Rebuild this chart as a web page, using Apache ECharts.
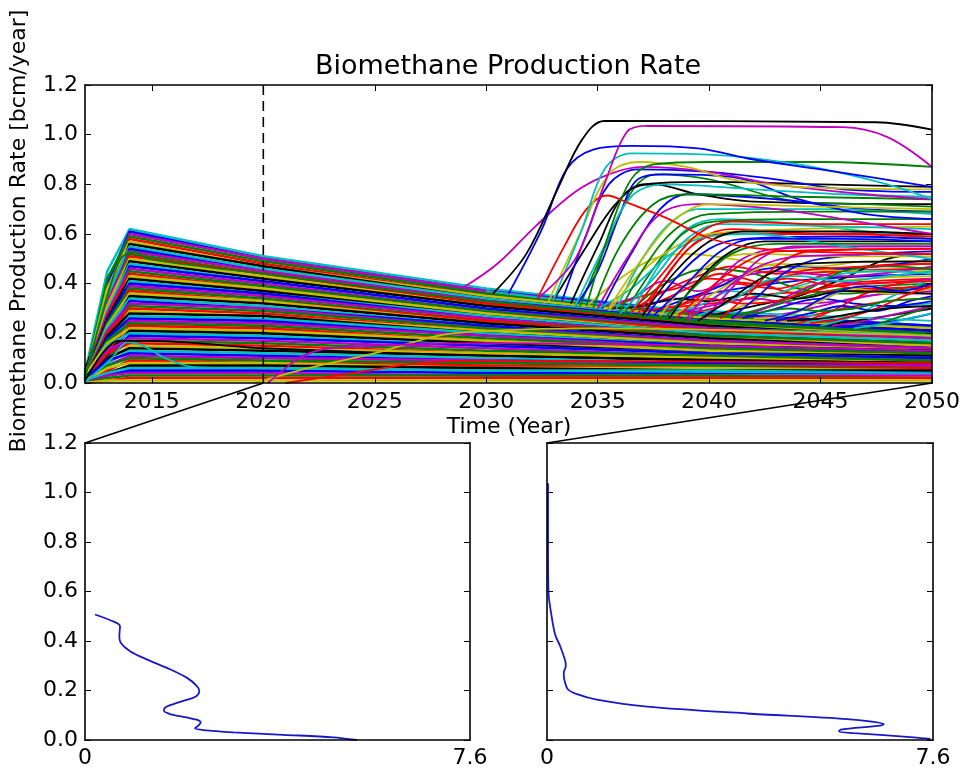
<!DOCTYPE html>
<html>
<head>
<meta charset="utf-8">
<script src="https://cdn.jsdelivr.net/npm/echarts@6/dist/echarts.min.js"></script>
<style>
  html, body { margin: 0; padding: 0; background: #fff; }
  #chart { width: 963px; height: 769px; }
</style>
</head>
<body>
<div id="chart"></div>
<script>
// tick labels
var yearTicks = [2015, 2020, 2025, 2030, 2035, 2040, 2045, 2050];

// the dense fan of runs: values at these years
var fanYears = [2012, 2013, 2014, 2020, 2030, 2040, 2050];
var fanRuns = [
  [0.04, 0.45, 0.62, 0.51, 0.38, 0.28, 0.23],
  [0.02, 0.40, 0.61, 0.50, 0.37, 0.28, 0.23],
  [0.03, 0.36, 0.60, 0.50, 0.37, 0.27, 0.22],
  [0.01, 0.42, 0.59, 0.49, 0.36, 0.27, 0.22],
  [0.03, 0.33, 0.58, 0.48, 0.35, 0.26, 0.21],
  [0.02, 0.38, 0.57, 0.47, 0.35, 0.26, 0.22],
  [0.05, 0.30, 0.56, 0.47, 0.34, 0.25, 0.21],
  [0.02, 0.35, 0.55, 0.46, 0.34, 0.25, 0.20],
  [0.03, 0.28, 0.54, 0.45, 0.33, 0.25, 0.21],
  [0.01, 0.32, 0.53, 0.45, 0.33, 0.24, 0.20],
  [0.02, 0.30, 0.52, 0.44, 0.32, 0.24, 0.20],
  [0.04, 0.26, 0.51, 0.44, 0.32, 0.23, 0.19],
  [0.02, 0.31, 0.50, 0.43, 0.31, 0.23, 0.19],
  [0.03, 0.27, 0.49, 0.42, 0.31, 0.23, 0.18],
  [0.01, 0.29, 0.48, 0.41, 0.30, 0.22, 0.19],
  [0.02, 0.25, 0.47, 0.41, 0.30, 0.22, 0.18],
  [0.03, 0.28, 0.46, 0.40, 0.29, 0.22, 0.18],
  [0.02, 0.24, 0.45, 0.39, 0.29, 0.21, 0.17],
  [0.01, 0.27, 0.44, 0.38, 0.28, 0.21, 0.17],
  [0.03, 0.23, 0.43, 0.38, 0.28, 0.20, 0.17],
  [0.02, 0.26, 0.42, 0.37, 0.27, 0.20, 0.16],
  [0.04, 0.22, 0.41, 0.36, 0.27, 0.20, 0.17],
  [0.01, 0.25, 0.40, 0.36, 0.26, 0.19, 0.16],
  [0.02, 0.21, 0.39, 0.35, 0.26, 0.19, 0.15],
  [0.03, 0.24, 0.38, 0.34, 0.25, 0.19, 0.16],
  [0.02, 0.20, 0.37, 0.33, 0.25, 0.18, 0.15],
  [0.01, 0.23, 0.36, 0.33, 0.24, 0.18, 0.15],
  [0.03, 0.19, 0.35, 0.32, 0.24, 0.18, 0.14],
  [0.02, 0.22, 0.34, 0.31, 0.23, 0.17, 0.14],
  [0.01, 0.18, 0.33, 0.30, 0.23, 0.17, 0.14],
  [0.02, 0.21, 0.32, 0.30, 0.22, 0.17, 0.14],
  [0.03, 0.17, 0.31, 0.29, 0.22, 0.16, 0.13],
  [0.02, 0.20, 0.30, 0.28, 0.21, 0.16, 0.13],
  [0.01, 0.16, 0.29, 0.27, 0.21, 0.16, 0.13],
  [0.02, 0.19, 0.28, 0.27, 0.20, 0.15, 0.13],
  [0.03, 0.15, 0.27, 0.26, 0.20, 0.15, 0.12],
  [0.01, 0.18, 0.26, 0.25, 0.19, 0.15, 0.12],
  [0.02, 0.14, 0.25, 0.24, 0.19, 0.14, 0.12],
  [0.02, 0.17, 0.24, 0.23, 0.18, 0.14, 0.12],
  [0.01, 0.13, 0.23, 0.22, 0.17, 0.13, 0.11],
  [0.03, 0.16, 0.22, 0.21, 0.17, 0.13, 0.11],
  [0.02, 0.12, 0.21, 0.20, 0.16, 0.12, 0.11],
  [0.01, 0.15, 0.20, 0.19, 0.15, 0.12, 0.10],
  [0.02, 0.11, 0.19, 0.18, 0.15, 0.12, 0.10],
  [0.01, 0.13, 0.18, 0.17, 0.14, 0.11, 0.09],
  [0.02, 0.10, 0.17, 0.16, 0.13, 0.11, 0.09],
  [0.01, 0.12, 0.16, 0.15, 0.12, 0.10, 0.08],
  [0.02, 0.09, 0.15, 0.14, 0.12, 0.10, 0.08],
  [0.01, 0.10, 0.14, 0.13, 0.11, 0.09, 0.08],
  [0.01, 0.08, 0.13, 0.12, 0.10, 0.08, 0.07],
  [0.02, 0.09, 0.12, 0.11, 0.09, 0.08, 0.07],
  [0.01, 0.07, 0.11, 0.10, 0.09, 0.07, 0.07],
  [0.01, 0.07, 0.10, 0.09, 0.08, 0.07, 0.06],
  [0.00, 0.05, 0.09, 0.08, 0.07, 0.06, 0.06],
  [0.01, 0.06, 0.08, 0.08, 0.06, 0.06, 0.05],
  [0.00, 0.04, 0.07, 0.07, 0.06, 0.05, 0.05],
  [0.01, 0.04, 0.06, 0.06, 0.05, 0.05, 0.04],
  [0.00, 0.03, 0.05, 0.05, 0.04, 0.04, 0.04],
  [0.00, 0.03, 0.04, 0.04, 0.03, 0.03, 0.03],
  [0.00, 0.02, 0.03, 0.03, 0.03, 0.03, 0.02],
  [0.00, 0.01, 0.02, 0.02, 0.02, 0.02, 0.02],
  [0.00, 0.01, 0.01, 0.01, 0.01, 0.01, 0.01]
];

// odd runs in the lower part, [year, rate]
var lowRuns = [
  [[2012, 0.00], [2013.2, 0.10], [2013.9, 0.165], [2014.6, 0.15], [2015.6, 0.10], [2016.8, 0.065], [2019, 0.06], [2030, 0.05], [2050, 0.04]],
  [[2012, 0.01], [2013.5, 0.17], [2015, 0.17], [2020, 0.14], [2030, 0.11], [2050, 0.08]],
  [[2019.6, 0.00], [2022, 0.06], [2025, 0.12], [2027.8, 0.19], [2030, 0.21], [2035, 0.22], [2050, 0.19]],
  [[2020.2, 0.00], [2021, 0.06], [2021.8, 0.11], [2023, 0.14], [2030, 0.16], [2050, 0.13]],
  [[2021, 0.00], [2024, 0.04], [2027, 0.08], [2030, 0.09], [2050, 0.08]],
  [[2012, 0.02], [2013, 0.35], [2013.6, 0.50], [2014.2, 0.53], [2014.8, 0.50], [2020, 0.44], [2030, 0.33], [2040, 0.25], [2050, 0.20]]
];
var lowKeys = ['c', 'k', 'y', 'm', 'r', 'g'];

// runs that take off after 2028, [year, rate]
var surgeRuns = [
  [[2030.3, 0.36], [2031.8, 0.52], [2033.2, 0.78], [2034.3, 0.98], [2035.3, 1.055], [2047.5, 1.05], [2050, 1.02]],
  [[2032.3, 0.34], [2034, 0.50], [2035.3, 0.80], [2036.3, 1.01], [2037.2, 1.035], [2046, 1.03], [2048, 0.99], [2050, 0.87]],
  [[2031, 0.36], [2032.5, 0.62], [2033.6, 0.86], [2034.8, 0.94], [2036.5, 0.955], [2039.5, 0.945], [2042, 0.90], [2045, 0.86], [2050, 0.79]],
  [[2033, 0.33], [2034.3, 0.62], [2035.3, 0.86], [2036.5, 0.925], [2040, 0.92], [2044, 0.88], [2048, 0.80], [2050, 0.74]],
  [[2034.5, 0.31], [2035.5, 0.60], [2036.5, 0.82], [2037.5, 0.88], [2040, 0.89], [2045, 0.89], [2050, 0.87]],
  [[2032.8, 0.33], [2034.2, 0.60], [2035.5, 0.84], [2036.8, 0.89], [2039, 0.87], [2041, 0.82], [2044, 0.79], [2050, 0.78]],
  [[2032.3, 0.34], [2033.5, 0.55], [2034.5, 0.70], [2035.4, 0.755], [2036.5, 0.72], [2038.2, 0.66], [2039.8, 0.59], [2041.5, 0.55], [2044, 0.53], [2050, 0.52]],
  [[2028.9, 0.38], [2030.5, 0.48], [2032.2, 0.63], [2034, 0.77], [2035.5, 0.84], [2037, 0.87], [2040, 0.85], [2043, 0.80], [2047, 0.76], [2050, 0.74]],
  [[2033.4, 0.33], [2034.5, 0.60], [2035.5, 0.80], [2036.8, 0.86], [2040, 0.85], [2043, 0.82], [2046, 0.78], [2050, 0.77]],
  [[2033, 0.33], [2034.5, 0.55], [2035.8, 0.72], [2037, 0.80], [2040, 0.81], [2045, 0.80], [2050, 0.79]],
  [[2034, 0.31], [2035.3, 0.55], [2036.5, 0.75], [2038, 0.80], [2042, 0.78], [2046, 0.76], [2050, 0.75]],
  [[2034.8, 0.30], [2036, 0.55], [2037.5, 0.72], [2039, 0.76], [2044, 0.75], [2050, 0.74]],
  [[2035.5, 0.30], [2037, 0.50], [2038.5, 0.66], [2040, 0.72], [2045, 0.71], [2050, 0.70]],
  [[2034, 0.31], [2035, 0.45], [2036, 0.68], [2036.8, 0.82], [2038, 0.84], [2041, 0.83], [2044, 0.74], [2047, 0.68], [2050, 0.66]],
  [[2035, 0.30], [2036.3, 0.50], [2037.8, 0.68], [2039.5, 0.72], [2043, 0.70], [2046, 0.66], [2050, 0.60]],
  [[2036, 0.29], [2037.2, 0.48], [2038.5, 0.62], [2040, 0.68], [2045, 0.69], [2050, 0.69]],
  [[2036.5, 0.28], [2038, 0.45], [2039.5, 0.60], [2041, 0.65], [2045, 0.64], [2050, 0.64]],
  [[2036, 0.28], [2037.5, 0.42], [2039, 0.58], [2040.5, 0.64], [2046, 0.63], [2050, 0.62]],
  [[2037, 0.27], [2038.5, 0.45], [2040, 0.57], [2041.5, 0.61], [2046, 0.61], [2050, 0.60]],
  [[2035.5, 0.29], [2037, 0.45], [2038.5, 0.55], [2040, 0.60], [2044, 0.62], [2050, 0.63]],
  [[2037.5, 0.27], [2039, 0.40], [2040.5, 0.53], [2042, 0.58], [2046, 0.58], [2050, 0.57]],
  [[2038, 0.26], [2039.5, 0.40], [2041, 0.52], [2043, 0.56], [2050, 0.56]],
  [[2038.5, 0.26], [2040, 0.38], [2041.5, 0.48], [2043, 0.53], [2050, 0.54]],
  [[2039, 0.25], [2040.5, 0.36], [2042, 0.46], [2044, 0.51], [2050, 0.52]],
  [[2035, 0.30], [2036.5, 0.38], [2038, 0.50], [2039.5, 0.58], [2042, 0.60], [2046, 0.55], [2050, 0.50]],
  [[2039.5, 0.25], [2041, 0.34], [2042.5, 0.43], [2044, 0.48], [2050, 0.49]],
  [[2036.8, 0.28], [2038, 0.42], [2039.2, 0.55], [2040.5, 0.60], [2045, 0.60], [2050, 0.59]],
  [[2037.2, 0.27], [2038.6, 0.43], [2040, 0.54], [2041.5, 0.58], [2046, 0.59], [2050, 0.58]],
  [[2038.2, 0.26], [2039.6, 0.42], [2041, 0.53], [2042.5, 0.57], [2050, 0.57]],
  [[2036.2, 0.28], [2037.5, 0.46], [2038.8, 0.60], [2040.2, 0.65], [2044, 0.66], [2050, 0.66]],
  [[2035.8, 0.29], [2037, 0.50], [2038.2, 0.64], [2039.5, 0.70], [2045, 0.70], [2050, 0.68]],
  [[2039.8, 0.26], [2041, 0.38], [2042.3, 0.50], [2043.8, 0.55], [2050, 0.55]],
  [[2040.5, 0.26], [2041.8, 0.36], [2043, 0.47], [2044.5, 0.53], [2050, 0.54]],
  [[2037.8, 0.27], [2039, 0.40], [2040.5, 0.50], [2042, 0.52], [2046, 0.51], [2050, 0.51]],
  [[2035.2, 0.30], [2036.5, 0.52], [2037.8, 0.70], [2039, 0.76], [2043, 0.74], [2047, 0.70], [2050, 0.69]],
  [[2034.2, 0.31], [2035.5, 0.58], [2036.6, 0.78], [2037.6, 0.84], [2040, 0.82], [2044, 0.73], [2047, 0.72], [2050, 0.71]],
  [[2033.8, 0.32], [2035, 0.55], [2036.2, 0.76], [2037.5, 0.80], [2039.5, 0.76], [2042, 0.73], [2050, 0.72]],
  [[2036.5, 0.28], [2037.8, 0.48], [2039, 0.62], [2040.5, 0.66], [2044, 0.64], [2048, 0.60], [2050, 0.58]],
  [[2039, 0.26], [2040.3, 0.40], [2041.5, 0.50], [2043, 0.54], [2047, 0.55], [2050, 0.55]],
  [[2041, 0.26], [2042.2, 0.35], [2043.5, 0.45], [2045, 0.50], [2050, 0.53]],
  [[2037, 0.27], [2038.3, 0.46], [2039.6, 0.58], [2041, 0.62], [2045, 0.60], [2050, 0.60]]
];
var surgeKeys = ['k', 'm', 'b', 'c', 'g', 'y', 'r', 'm', 'b', 'k', 'c', 'g', 'y',
  'b', 'm', 'g', 'r', 'c', 'k', 'y', 'b', 'g', 'r', 'm', 'c', 'k',
  'r', 'b', 'k', 'g', 'c', 'm', 'r', 'y', 'b', 'g', 'k', 'c', 'm', 'b', 'r'];

// tangle of runs between 0.25 and 0.5 after 2035, [year, rate]
var tangleRuns = [
  [[2035.5, 0.30], [2037, 0.35], [2038.5, 0.38], [2040, 0.42], [2042, 0.40], [2044, 0.44], [2050, 0.46]],
  [[2036, 0.30], [2038, 0.33], [2040, 0.36], [2042, 0.39], [2045, 0.42], [2050, 0.44]],
  [[2040, 0.27], [2041.5, 0.31], [2043, 0.36], [2045, 0.40], [2047, 0.42], [2050, 0.43]],
  [[2041, 0.26], [2042.5, 0.30], [2044, 0.34], [2046, 0.38], [2050, 0.40]],
  [[2042, 0.26], [2043.5, 0.28], [2045, 0.31], [2047, 0.35], [2050, 0.37]],
  [[2043, 0.25], [2044.5, 0.27], [2046, 0.30], [2048, 0.33], [2050, 0.34]],
  [[2044, 0.24], [2045.5, 0.26], [2047, 0.29], [2048.5, 0.31], [2050, 0.32]],
  [[2045, 0.23], [2046.5, 0.25], [2048, 0.27], [2050, 0.30]],
  [[2046, 0.23], [2047.5, 0.24], [2049, 0.26], [2050, 0.28]],
  [[2037, 0.29], [2039, 0.31], [2041, 0.33], [2043, 0.36], [2046, 0.37], [2050, 0.38]],
  [[2030, 0.37], [2035, 0.32], [2040, 0.29], [2045, 0.27], [2050, 0.25]],
  [[2036.5, 0.29], [2038, 0.40], [2040, 0.46], [2042, 0.44], [2044, 0.38], [2046, 0.36], [2050, 0.40]],
  [[2038, 0.28], [2039.5, 0.35], [2041, 0.40], [2043, 0.38], [2045, 0.43], [2047, 0.47], [2050, 0.48]],
  [[2034.5, 0.31], [2036, 0.42], [2037.5, 0.50], [2039, 0.52], [2041, 0.50], [2044, 0.46], [2050, 0.45]],
  [[2038.5, 0.28], [2040, 0.31], [2042, 0.34], [2044, 0.32], [2046, 0.33], [2048, 0.36], [2050, 0.36]],
  [[2041.5, 0.26], [2043, 0.30], [2045, 0.34], [2046.5, 0.32], [2048, 0.31], [2050, 0.33]],
  [[2044, 0.24], [2045.5, 0.29], [2047, 0.36], [2048.5, 0.40], [2050, 0.41]],
  [[2040, 0.27], [2042, 0.31], [2044, 0.35], [2046, 0.42], [2048, 0.50], [2050, 0.52]],
  [[2045, 0.23], [2046.5, 0.27], [2048, 0.34], [2050, 0.42]],
  [[2047, 0.22], [2048, 0.25], [2049, 0.28], [2050, 0.31]],
  [[2035, 0.31], [2036.5, 0.34], [2038, 0.41], [2039.5, 0.37], [2041, 0.42], [2043, 0.45], [2046, 0.43], [2050, 0.47]],
  [[2036, 0.30], [2037.5, 0.32], [2039, 0.38], [2040.5, 0.44], [2042, 0.41], [2044, 0.36], [2046, 0.40], [2050, 0.42]],
  [[2037.5, 0.29], [2039, 0.34], [2040.5, 0.39], [2042, 0.45], [2044, 0.47], [2046, 0.46], [2050, 0.50]],
  [[2038, 0.28], [2039.5, 0.31], [2041, 0.37], [2042.5, 0.35], [2044, 0.39], [2046, 0.44], [2048, 0.45], [2050, 0.44]],
  [[2039, 0.28], [2040.5, 0.31], [2042, 0.38], [2043.5, 0.42], [2045, 0.40], [2047, 0.38], [2050, 0.39]],
  [[2040, 0.27], [2041.5, 0.28], [2043, 0.32], [2044.5, 0.38], [2046, 0.45], [2048, 0.47], [2050, 0.46]],
  [[2041, 0.26], [2042.5, 0.30], [2044, 0.37], [2045.5, 0.41], [2047, 0.40], [2050, 0.42]],
  [[2042, 0.26], [2043.5, 0.27], [2045, 0.33], [2046.5, 0.38], [2048, 0.36], [2050, 0.38]],
  [[2043, 0.25], [2044.5, 0.28], [2046, 0.31], [2047.5, 0.29], [2049, 0.33], [2050, 0.35]],
  [[2036.5, 0.29], [2038, 0.37], [2039.5, 0.43], [2041, 0.47], [2043, 0.44], [2045, 0.46], [2050, 0.48]],
  [[2035.5, 0.30], [2037, 0.31], [2038.5, 0.34], [2040, 0.33], [2042, 0.36], [2044, 0.34], [2046, 0.37], [2050, 0.36]],
  [[2039.5, 0.27], [2041, 0.33], [2042.5, 0.41], [2044, 0.43], [2046, 0.41], [2048, 0.43], [2050, 0.45]],
  [[2044.5, 0.24], [2046, 0.26], [2047.5, 0.30], [2049, 0.36], [2050, 0.39]],
  [[2045.5, 0.23], [2047, 0.25], [2048.5, 0.28], [2050, 0.31]],
  [[2040.5, 0.27], [2042, 0.28], [2043.5, 0.30], [2045, 0.29], [2046.5, 0.30], [2048, 0.33], [2050, 0.34]],
  [[2042.5, 0.25], [2044, 0.29], [2045.5, 0.36], [2047, 0.39], [2048.5, 0.37], [2050, 0.40]],
  [[2037, 0.29], [2038.5, 0.31], [2040, 0.34], [2041.5, 0.32], [2043, 0.33], [2045, 0.38], [2047, 0.40], [2050, 0.41]],
  [[2038.5, 0.28], [2040, 0.35], [2041.5, 0.43], [2043, 0.48], [2045, 0.47], [2047, 0.49], [2050, 0.49]],
  [[2043.5, 0.25], [2045, 0.26], [2046.5, 0.28], [2048, 0.30], [2050, 0.31]],
  [[2046.5, 0.22], [2048, 0.24], [2049, 0.26], [2050, 0.28]]
];
var tangleKeys = ['r', 'b', 'y', 'g', 'm', 'r', 'c', 'k', 'b', 'r',
  'c', 'g', 'r', 'y', 'm', 'b', 'r', 'k', 'c', 'g',
  'm', 'r', 'b', 'c', 'r', 'g', 'm', 'y', 'b', 'r',
  'k', 'c', 'r', 'm', 'g', 'b', 'r', 'y', 'k', 'c'];

// density of the rate in 2020 and in 2050, [density, rate]
var density2020 = [
  [0.197, 0.507], [0.592, 0.476], [0.691, 0.460], [0.678, 0.420], [0.704, 0.393],
  [0.888, 0.359], [1.217, 0.326], [1.678, 0.286], [2.007, 0.252], [2.204, 0.219],
  [2.257, 0.198], [2.204, 0.178], [2.007, 0.162], [1.744, 0.145], [1.579, 0.131],
  [1.559, 0.118], [1.678, 0.105], [2.007, 0.091], [2.204, 0.082], [2.283, 0.071],
  [2.237, 0.058], [2.171, 0.047], [2.336, 0.040], [2.928, 0.031], [3.915, 0.021],
  [4.902, 0.011], [5.363, 0.000]
];
var density2050 = [
  [0.02, 1.037], [0.02, 0.78], [0.03, 0.594], [0.08, 0.514], [0.16, 0.426],
  [0.26, 0.379], [0.36, 0.319], [0.37, 0.299], [0.33, 0.272], [0.34, 0.245],
  [0.41, 0.205], [0.59, 0.185], [0.98, 0.163], [1.97, 0.135], [3.94, 0.107],
  [5.91, 0.084], [6.63, 0.064], [6.56, 0.058], [5.78, 0.042], [5.75, 0.034],
  [6.04, 0.028], [7.22, 0.011], [7.55, 0.004]
];

var palette = { b: '#0000ff', g: '#008000', r: '#ff0000', c: '#00bfbf', m: '#bf00bf', y: '#bfbf00', k: '#000000' };
var cycle = ['c', 'b', 'm', 'g', 'r', 'y', 'k'];
var FONT = 'DejaVu Sans';

var chart = echarts.init(document.getElementById('chart'), null, { renderer: 'canvas' });

function lineSeries(data, color, width, gi, smooth) {
  return {
    type: 'line',
    xAxisIndex: gi * 2,
    yAxisIndex: gi * 2,
    data: data,
    symbol: 'none',
    silent: true,
    smooth: smooth || false,
    lineStyle: { color: color, width: width },
    z: 2
  };
}

var series = [];
fanRuns.forEach(function (row, i) {
  var pts = row.map(function (v, j) { return [fanYears[j], v]; });
  series.push(lineSeries(pts, palette[cycle[i % 7]], 2.6, 0, false));
});
lowRuns.forEach(function (pts, i) {
  series.push(lineSeries(pts, palette[lowKeys[i]], 1.8, 0, 0.3));
});
tangleRuns.forEach(function (pts, i) {
  series.push(lineSeries(pts, palette[tangleKeys[i]], 1.8, 0, 0.35));
});
for (var s = surgeRuns.length - 1; s >= 0; s--) {
  series.push(lineSeries(surgeRuns[s], palette[surgeKeys[s]], 1.8, 0, 0.35));
}
// dashed marker at 2020
series.push({
  type: 'line', xAxisIndex: 0, yAxisIndex: 0, symbol: 'none', silent: true,
  data: [[2020, 0], [2020, 1.2]],
  lineStyle: { color: '#000', width: 1.6, type: [10, 6] },
  z: 5
});
series.push(lineSeries(density2020, '#1818c8', 1.8, 1, 0.3));
series.push(lineSeries(density2050, '#1818c8', 1.8, 2, 0.3));

var spine = { show: true, onZero: false, lineStyle: { color: '#000', width: 1.6 } };
var tickIn = { show: true, inside: true, length: 6, lineStyle: { color: '#000', width: 1 } };
var lab = { color: '#000', fontFamily: FONT, fontSize: 22 };

function xPair(gi, min, max, opts) {
  var bottom = {
    gridIndex: gi, type: 'value', min: min, max: max, position: 'bottom', z: 10,
    axisLine: spine, splitLine: { show: false }
  };
  var top = {
    gridIndex: gi, type: 'value', min: min, max: max, position: 'top', z: 10,
    axisLine: spine, splitLine: { show: false }, axisLabel: { show: false }
  };
  return [echarts.util.merge(bottom, opts.bottom, true), echarts.util.merge(top, opts.top, true)];
}

function yPair(gi, showLabels) {
  var left = {
    gridIndex: gi, type: 'value', min: 0, max: 1.2, interval: 0.2, position: 'left', z: 10,
    axisLine: spine, axisTick: tickIn, splitLine: { show: false },
    axisLabel: echarts.util.extend({
      show: showLabels, margin: 7,
      formatter: function (v) { return v.toFixed(1); }
    }, lab)
  };
  var right = {
    gridIndex: gi, type: 'value', min: 0, max: 1.2, interval: 0.2, position: 'right', z: 10,
    axisLine: spine, axisTick: tickIn, splitLine: { show: false }, axisLabel: { show: false }
  };
  return [left, right];
}

var yearTickOpts = {
  bottom: {
    axisTick: echarts.util.extend({ customValues: yearTicks }, tickIn),
    axisLabel: echarts.util.extend({
      customValues: yearTicks, margin: 8,
      formatter: function (v) { return String(v); }
    }, lab)
  },
  top: {
    axisTick: echarts.util.extend({ customValues: yearTicks }, tickIn)
  }
};
var densOpts = {
  bottom: {
    interval: 7.6,
    axisTick: { show: false },
    axisLabel: echarts.util.extend({
      margin: 7,
      formatter: function (v) { return v === 0 ? '0' : String(v); }
    }, lab)
  },
  top: { interval: 7.6, axisTick: { show: false } }
};

var xAxes = [].concat(
  xPair(0, 2012, 2050, yearTickOpts),
  xPair(1, 0, 7.6, densOpts),
  xPair(2, 0, 7.6, densOpts)
);
var yAxes = [].concat(yPair(0, true), yPair(1, true), yPair(2, false));

chart.setOption({
  animation: false,
  backgroundColor: '#fff',
  grid: [
    { left: 85, top: 85, width: 847, height: 298 },
    { left: 85, top: 443, width: 385, height: 298 },
    { left: 547, top: 443, width: 386, height: 298 }
  ],
  xAxis: xAxes,
  yAxis: yAxes,
  series: series
});

var a0 = chart.convertToPixel({ xAxisIndex: 0, yAxisIndex: 0 }, [2020, 0]);
var a1 = chart.convertToPixel({ xAxisIndex: 2, yAxisIndex: 2 }, [0, 1.2]);
var b0 = chart.convertToPixel({ xAxisIndex: 0, yAxisIndex: 0 }, [2050, 0]);
var b1 = chart.convertToPixel({ xAxisIndex: 4, yAxisIndex: 4 }, [0, 1.2]);

chart.setOption({
  graphic: [
    {
      type: 'text', x: 508, y: 67, z: 20,
      style: { text: 'Biomethane Production Rate', fontFamily: FONT, fontSize: 27, fill: '#000', align: 'center', verticalAlign: 'middle' }
    },
    {
      type: 'text', x: 509, y: 427, z: 20,
      style: { text: 'Time (Year)', fontFamily: FONT, fontSize: 22, fill: '#000', align: 'center', verticalAlign: 'middle' }
    },
    {
      type: 'text', x: 19, y: 231, rotation: Math.PI / 2, z: 20,
      style: { text: 'Biomethane Production Rate [bcm/year]', fontFamily: FONT, fontSize: 22, fill: '#000', align: 'center', verticalAlign: 'middle' }
    },
    {
      type: 'line', z: 20,
      shape: { x1: a0[0], y1: a0[1], x2: a1[0], y2: a1[1] },
      style: { stroke: '#000', lineWidth: 1.6 }
    },
    {
      type: 'line', z: 20,
      shape: { x1: b0[0], y1: b0[1], x2: b1[0], y2: b1[1] },
      style: { stroke: '#000', lineWidth: 1.6 }
    }
  ]
});
</script>
</body>
</html>
